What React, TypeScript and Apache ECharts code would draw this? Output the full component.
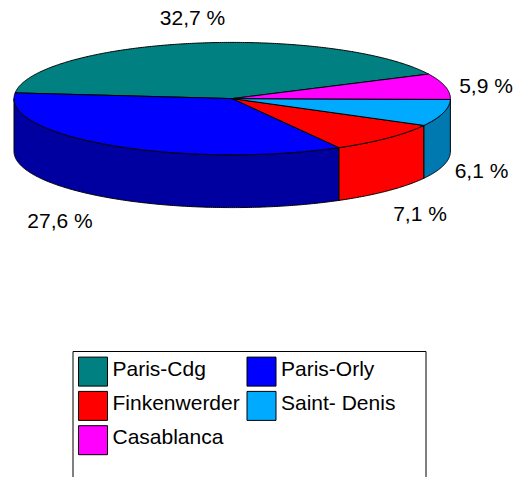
import React, { useEffect, useRef } from "react";
import * as echarts from "echarts";

const sites = ["Paris-Cdg", "Paris-Orly", "Finkenwerder", "Saint- Denis", "Casablanca"];
const shares = [32.7, 27.6, 7.1, 6.1, 5.9];
const colors = ["#008080", "#0000FF", "#FF0000", "#00AAFF", "#FF00FF"];
const wallColors = ["#005050", "#0000A0", "#FF0000", "#0078B0", "#B000B0"];

// Layout of the tilted pie (not data)
const CX = 232.2;
const CY = 98.6;
const RX = 218.2;
const RY = 56.2;
const DEPTH = 52.8;
const START_DEG = -25.9; // the first slice starts here and runs counter-clockwise on screen
const labelCentres: [number, number][] = [
  [192.5, 17],
  [60, 220],
  [420, 213],
  [481.5, 170],
  [486, 85],
];
const FONT = '"Liberation Sans", Arial, sans-serif';
const total = shares.reduce((a, b) => a + b, 0);

const pt = (deg: number, dy = 0): number[] => {
  const t = (deg * Math.PI) / 180;
  return [CX + RX * Math.cos(t), CY + RY * Math.sin(t) + dy];
};
const arc = (from: number, to: number, dy = 0): number[][] => {
  const n = Math.max(2, Math.ceil((to - from) * 2));
  const out: number[][] = [];
  for (let k = 0; k <= n; k++) out.push(pt(from + ((to - from) * k) / n, dy));
  return out;
};

function renderSlice(params: any, api: any) {
  const i = params.seriesIndex;
  const value = api.value(0);
  const before = shares.slice(0, i).reduce((a, b) => a + b, 0);
  const a = START_DEG - (before / total) * 360;
  const b = a - (value / total) * 360;
  const from = ((b % 360) + 360) % 360;
  const to = from + (a - b);

  const children: any[] = [];

  // Visible wall: the part of the rim on the front half (0..180 degrees)
  const wFrom = Math.max(from, 0);
  const wTo = Math.min(to, 180);
  if (from < 180 && wTo > wFrom) {
    children.push({
      type: "polygon",
      shape: { points: [...arc(wFrom, wTo), ...arc(wFrom, wTo, DEPTH).reverse()] },
      style: { fill: wallColors[i], stroke: "#000", lineWidth: 1, lineJoin: "round" },
      z2: 1,
    });
  }

  // Top face
  children.push({
    type: "polygon",
    shape: { points: [[CX, CY], ...arc(from, to)] },
    style: { fill: colors[i], stroke: "#000", lineWidth: 1, lineJoin: "round" },
    z2: 2,
  });

  // Value label
  children.push({
    type: "text",
    x: labelCentres[i][0],
    y: labelCentres[i][1],
    style: {
      text: value.toFixed(1).replace(".", ",") + " %",
      fill: "#000",
      font: `21px ${FONT}`,
      align: "center",
      verticalAlign: "middle",
    },
    z2: 3,
  });

  return { type: "group", children };
}

export default function App() {
  const ref = useRef<HTMLDivElement>(null);
  useEffect(() => {
    const chart = echarts.init(ref.current!, undefined, { renderer: "svg" });
    const legendBase = {
      orient: "vertical" as const,
      top: 356.6,
      padding: 0,
      itemWidth: 29,
      itemHeight: 29,
      itemGap: 4.3,
      selectedMode: false,
      icon: "rect",
      formatter: "{a|{name}}",
      textStyle: {
        fontFamily: FONT,
        fontSize: 21,
        color: "#000",
        rich: {
          a: { fontFamily: FONT, fontSize: 21, color: "#000", padding: [0, 0, 7, 0] },
        },
      },
      itemStyle: { borderColor: "#000", borderWidth: 1 },
    };
    chart.setOption({
      animation: false,
      backgroundColor: "#fff",
      graphic: [
        {
          type: "rect",
          z: 0,
          shape: { x: 73, y: 351.5, width: 353, height: 150 },
          style: { fill: "#fff", stroke: "#000", lineWidth: 1 },
        },
      ],
      legend: [
        { ...legendBase, left: 78, data: [sites[0], sites[2], sites[4]] },
        { ...legendBase, left: 246.5, data: [sites[1], sites[3]] },
      ],
      series: sites.map((name, i) => ({
        type: "custom",
        name,
        coordinateSystem: "none",
        itemStyle: { color: colors[i] },
        data: [[shares[i]]],
        renderItem: renderSlice,
        silent: true,
      })),
    });
    return () => chart.dispose();
  }, []);
  return (
    <div
      ref={ref}
      style={{ position: "absolute", left: 0, top: 0, width: 517, height: 477, overflow: "hidden" }}
    />
  );
}
